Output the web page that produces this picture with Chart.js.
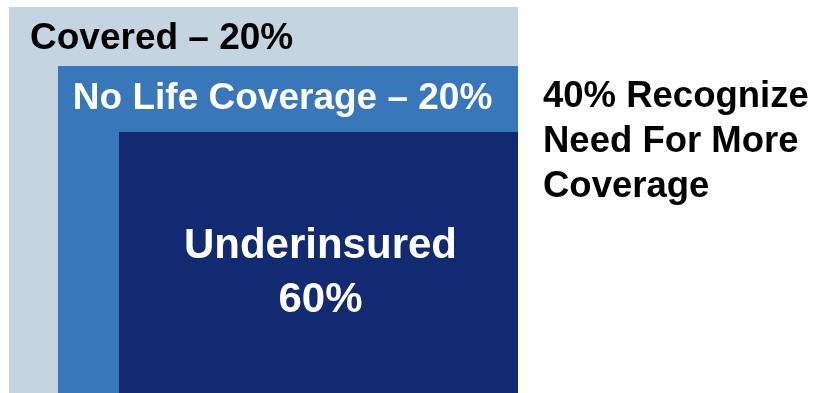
<!DOCTYPE html>
<html>
<head>
<meta charset="utf-8">
<script src="https://cdn.jsdelivr.net/npm/chart.js@4/dist/chart.umd.min.js"></script>
<style>
  html, body { margin: 0; padding: 0; background: #ffffff; }
  #wrap { width: 817px; height: 393px; position: relative; }
</style>
</head>
<body>
<div id="wrap"><canvas id="chart"></canvas></div>
<script>
// Segments of the insured population
const categories = ['Covered', 'No Life Coverage', 'Underinsured'];
const shares = [20, 20, 60];
// Nested boxes, in diagram units (0–100 each way): left edge and top edge
const boxLeft = [0, 9.6, 21.6];
const boxTop = [100, 84.7, 67.6];
const boxRight = 100;
const calloutLines = ['40% Recognize', 'Need For More', 'Coverage'];

const fills = ['#c4d4e1', '#3877b9', '#122a71'];

const datasets = categories.map((name, i) => ({
  label: name,
  data: [{ x: boxLeft[i], y: boxTop[i] }, { x: boxRight, y: boxTop[i] }],
  fill: 'start',
  backgroundColor: fills[i],
  borderWidth: 0,
  pointRadius: 0,
  tension: 0,
  order: categories.length - i
}));

const FONT = '"Liberation Sans", Arial, sans-serif';

const labelPlugin = {
  id: 'boxLabels',
  afterDatasetsDraw(chart) {
    const { ctx, scales: { x, y }, chartArea } = chart;
    ctx.save();
    ctx.textBaseline = 'alphabetic';

    // Outer box label
    ctx.font = 'bold 37px ' + FONT;
    ctx.fillStyle = '#000000';
    ctx.textAlign = 'left';
    ctx.fillText(categories[0] + ' \u2013 ' + shares[0] + '%',
      x.getPixelForValue(boxLeft[0]) + 21, y.getPixelForValue(boxTop[0]) + 42);

    // Middle box label
    ctx.fillStyle = '#ffffff';
    ctx.fillText(categories[1] + ' \u2013 ' + shares[1] + '%',
      x.getPixelForValue(boxLeft[1]) + 15, y.getPixelForValue(boxTop[1]) + 43);

    // Inner box label, centred
    ctx.font = 'bold 42px ' + FONT;
    ctx.textAlign = 'center';
    const cx = (x.getPixelForValue(boxLeft[2]) + x.getPixelForValue(boxRight)) / 2 + 2;
    const ty = y.getPixelForValue(boxTop[2]);
    ctx.fillText(categories[2], cx, ty + 126);
    ctx.fillText(shares[2] + '%', cx, ty + 180);

    // Callout to the right of the boxes
    ctx.font = 'bold 36.5px ' + FONT;
    ctx.fillStyle = '#000000';
    ctx.textAlign = 'left';
    calloutLines.forEach((line, i) => {
      ctx.fillText(line, chartArea.right + 25, 107 + i * 45);
    });
    ctx.restore();
  }
};

new Chart(document.getElementById('chart'), {
  type: 'line',
  data: { datasets },
  options: {
    responsive: true,
    maintainAspectRatio: false,
    animation: false,
    layout: { padding: { left: 9, top: 7, right: 299, bottom: 0 } },
    scales: {
      x: { type: 'linear', min: 0, max: 100, display: false },
      y: { type: 'linear', min: 0, max: 100, display: false }
    },
    plugins: {
      legend: { display: false },
      tooltip: { enabled: false }
    }
  },
  plugins: [labelPlugin]
});
</script>
</body>
</html>
